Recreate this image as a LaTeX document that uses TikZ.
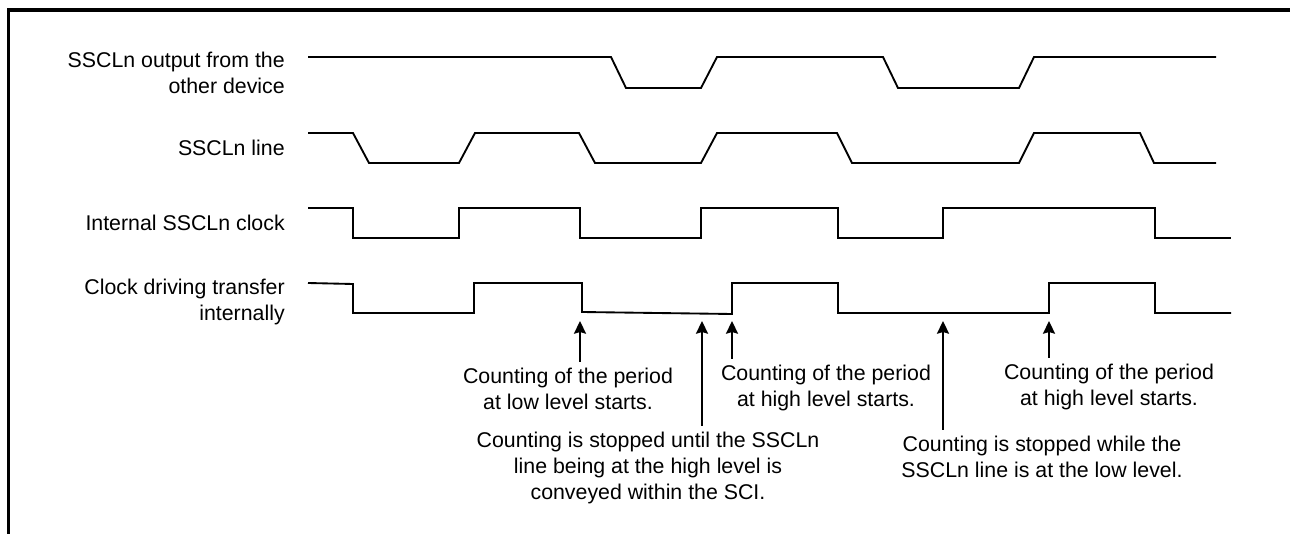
\documentclass[tikz,border=0pt]{standalone}
\usepackage{fontspec}
\setmainfont{Liberation Sans}
\usetikzlibrary{arrows.meta}
\tikzset{every node/.style={font=\fontsize{16}{19.5}\selectfont}}
\tikzset{
  wave/.style={line width=1.4pt, line join=miter},
  signame/.style={align=right, inner sep=0pt},
  note/.style={align=center, inner sep=4pt},
  callout/.style={line width=1.4pt, -{Stealth[length=9.5pt, width=9pt, inset=1.2pt]}}
}
\colorlet{framecol}{black}
\colorlet{wavecol}{black}

\begin{document}
\begin{tikzpicture}[x=0.75pt, y=-0.75pt]

  \useasboundingbox (0,0) rectangle (1290,534);

  % Frame (top and left edges only).
  \draw[line width=2.4pt, framecol] (1290,10) -- (8.5,10) -- (8.5,534);

  % Signal names.
  \node[signame, anchor=north east] (outname) at (285,52)
    {SSCLn output from the\\other device};
  \node[signame, anchor=east] (linename) at (285,148) {SSCLn line};
  \node[signame, anchor=east] (intname) at (285,223) {Internal SSCLn clock};
  \node[signame, anchor=north east] (drvname) at (285,278.5)
    {Clock driving transfer\\internally};

  % SSCLn output from the other device.
  \draw[wave, wavecol] (308,57) -- (611,57) -- (626,88) -- (701,88)
    -- (717,57) -- (883,57) -- (898,88) -- (1019,88) -- (1034,57) -- (1216,57);

  % SSCLn line.
  \draw[wave, wavecol] (308,133) -- (353,133) -- (369,163) -- (459,163)
    -- (475,133) -- (579,133) -- (595,163) -- (701,163) -- (717,133)
    -- (837,133) -- (852,163) -- (1019,163) -- (1034,133) -- (1140,133)
    -- (1154,163) -- (1216,163);

  % Internal SSCLn clock.
  \draw[wave, wavecol] (308,208) -- (353,208) -- (353,238) -- (459,238)
    -- (459,208) -- (580,208) -- (580,238) -- (701,238) -- (701,208)
    -- (838,208) -- (838,238) -- (943,238) -- (943,208) -- (1155,208)
    -- (1155,238) -- (1231,238);

  % Clock driving transfer internally.
  \draw[wave, wavecol] (308,283) -- (353,284) -- (353,313) -- (474,313)
    -- (474,283) -- (582,283) -- (582,312) -- (732,314) -- (732,283)
    -- (838,283) -- (838,313) -- (1049,313) -- (1049,283) -- (1155,283)
    -- (1155,313) -- (1231,313);

  % Points the notes refer to.
  \coordinate (lowstart)   at (580,321);
  \coordinate (stopuntil)  at (702,321);
  \coordinate (highstartA) at (732,321);
  \coordinate (stopwhile)  at (943,321);
  \coordinate (highstartB) at (1049,321);

  % Notes.
  \node[note, anchor=north] (lowtxt) at (568,362)
    {Counting of the period\\at low level starts.};
  \node[note, anchor=north] (hightxtA) at (826,359)
    {Counting of the period\\at high level starts.};
  \node[note, anchor=north] (untiltxt) at (648,426)
    {Counting is stopped until the SSCLn\\line being at the high level is\\conveyed within the SCI.};
  \node[note, anchor=north] (whiletxt) at (1042,430)
    {Counting is stopped while the\\SSCLn line is at the low level.};
  \node[note, anchor=north] (hightxtB) at (1109,358)
    {Counting of the period\\at high level starts.};

  % Arrows from the notes up to the waveform.
  \foreach \txt/\tip in {lowtxt/lowstart, untiltxt/stopuntil,
      hightxtA/highstartA, whiletxt/stopwhile, hightxtB/highstartB} {
    \draw[callout] (\txt.north -| \tip) -- (\tip);
  }

\end{tikzpicture}
\end{document}
